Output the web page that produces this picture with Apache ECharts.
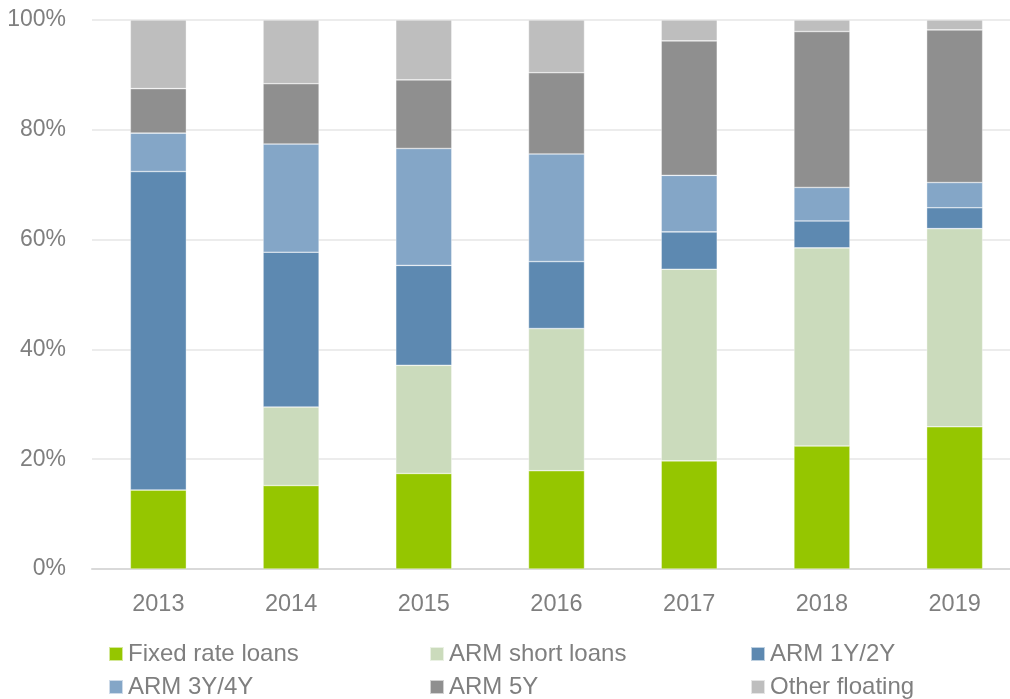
<!DOCTYPE html>
<html>
<head>
<meta charset="utf-8">
<script src="https://cdn.jsdelivr.net/npm/echarts@6/dist/echarts.min.js"></script>
<style>
html,body{margin:0;padding:0;background:#fff;}
#chart{width:1010px;height:699px;}
</style>
</head>
<body>
<div id="chart"></div>
<script>
const categories = ['2013','2014','2015','2016','2017','2018','2019'];
const fixedRate   = [14.4, 15.2, 17.4, 17.9, 19.7, 22.4, 25.9];
const armShort    = [0.0, 14.3, 19.7, 25.9, 34.9, 36.1, 36.1];
const arm1y2y     = [58.0, 28.2, 18.2, 12.2, 6.8, 4.9, 3.8];
const arm3y4y     = [7.0, 19.7, 21.3, 19.6, 10.3, 6.1, 4.6];
const arm5y       = [8.1, 11.0, 12.5, 14.8, 24.5, 28.4, 27.8];
const otherFloat  = [12.5, 11.6, 10.9, 9.6, 3.8, 2.1, 1.8];
const yTicks = [0, 20, 40, 60, 80, 100];

const seriesDefs = [
  {name:'Fixed rate loans', data:fixedRate, color:'#95c600'},
  {name:'ARM short loans', data:armShort, color:'#cbdbbc'},
  {name:'ARM 1Y/2Y', data:arm1y2y, color:'#5d89b1'},
  {name:'ARM 3Y/4Y', data:arm3y4y, color:'#84a6c7'},
  {name:'ARM 5Y', data:arm5y, color:'#8f8f8f'},
  {name:'Other floating', data:otherFloat, color:'#bebebe'}
];

const textColor = '#7f7f7f';
const fontFam = '"Liberation Sans", Arial, sans-serif';

const legendPos = [
  {left:108, top:642}, {left:429, top:642}, {left:750, top:642},
  {left:108, top:675}, {left:429, top:675}, {left:750, top:675}
];

const chart = echarts.init(document.getElementById('chart'), null, {renderer:'canvas'});
chart.setOption({
  animation:false,
  backgroundColor:'#ffffff',
  grid:{left:92, top:20, right:-11, bottom:130, containLabel:false, outerBoundsMode:'none'},
  legend: seriesDefs.map((s,i)=>({
    data:[s.name],
    left:legendPos[i].left, top:legendPos[i].top,
    padding:0,
    itemWidth:14, itemHeight:14, itemGap:0, itemTextGap:8,
    icon:'rect',
    selectedMode:false,
    textStyle:{color:textColor, fontSize:24, fontFamily:fontFam, lineHeight:24}
  })),
  xAxis:{
    type:'category',
    data:categories,
    axisLine:{show:true, lineStyle:{color:'#d9d9d9', width:2}},
    axisTick:{show:false},
    axisLabel:{color:textColor, fontSize:23.5, fontFamily:fontFam, margin:24}
  },
  yAxis:{
    type:'value',
    min:0, max:100, interval:20,
    axisLine:{show:false},
    axisTick:{show:false},
    splitLine:{show:true, lineStyle:{color:'#ececec', width:2}},
    axisLabel:{color:textColor, fontSize:23, fontFamily:fontFam, margin:26,
      formatter:function(v){ return yTicks.indexOf(v)>=0 ? v+'%' : ''; }}
  },
  series: seriesDefs.map(s=>({
    name:s.name,
    type:'bar',
    stack:'total',
    barWidth:56,
    data:s.data,
    itemStyle:{color:s.color, borderColor:'rgba(255,255,255,0.6)', borderWidth:0.6},
    emphasis:{disabled:true}
  }))
});
</script>
</body>
</html>
